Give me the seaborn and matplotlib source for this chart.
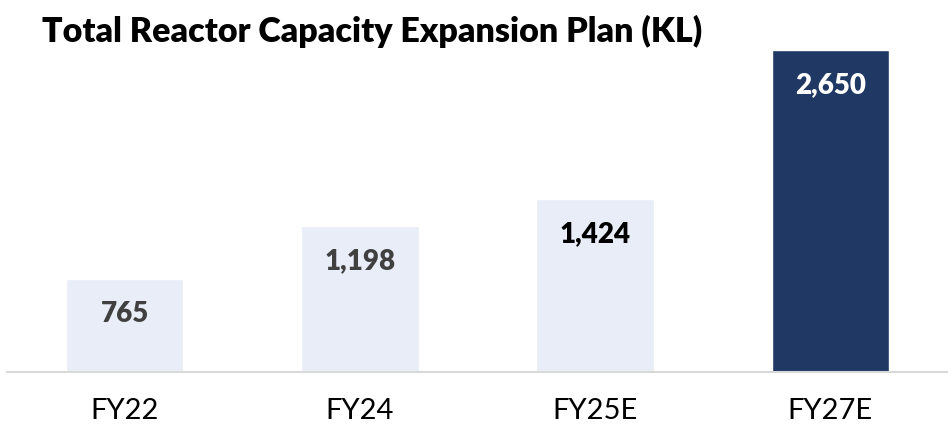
import pandas as pd
import matplotlib.pyplot as plt
import seaborn as sns

# data
years = ['FY22', 'FY24', 'FY25E', 'FY27E']
capacity = [765, 1198, 1424, 2650]
bar_colors = ['#E9EDF7', '#E9EDF7', '#E9EDF7', '#203864']
label_colors = ['#404040', '#404040', '#000000', '#FFFFFF']

df = pd.DataFrame({'Year': years, 'Capacity': capacity})

sns.set_style("white")
plt.rcParams['font.family'] = ['Lato', 'DejaVu Sans']

fig = plt.figure(figsize=(9.48, 4.33), dpi=100)
ax = fig.add_axes([7 / 948, 1 - 372 / 433, 941 / 948, 322 / 433])

sns.barplot(data=df, x='Year', y='Capacity', hue='Year', palette=bar_colors,
            width=0.5, legend=False, saturation=1, ax=ax)

ax.set_xlim(-0.5, 3.5)
ax.set_ylim(0, 2650)

# value labels inside bars
for i, (v, c) in enumerate(zip(capacity, label_colors)):
    ax.annotate(f'{v:,}', xy=(i, v), xytext=(0, -25), textcoords='offset points',
                ha='center', va='center', fontsize=20, fontweight='heavy', color=c)

for s in ['top', 'right', 'left']:
    ax.spines[s].set_visible(False)
ax.spines['bottom'].set_color('#D9D9D9')
ax.spines['bottom'].set_linewidth(1.5)
ax.set_yticks([])
ax.set_xlabel('')
ax.set_ylabel('')
ax.tick_params(axis='x', length=0, pad=19, labelsize=21, labelcolor='#000000')

fig.text(42 / 948, 1 - 31 / 433, 'Total Reactor Capacity Expansion Plan (KL)',
         ha='left', va='center', fontsize=24.5, fontweight='heavy', color='#000000')

plt.savefig('out.png', dpi=100)
